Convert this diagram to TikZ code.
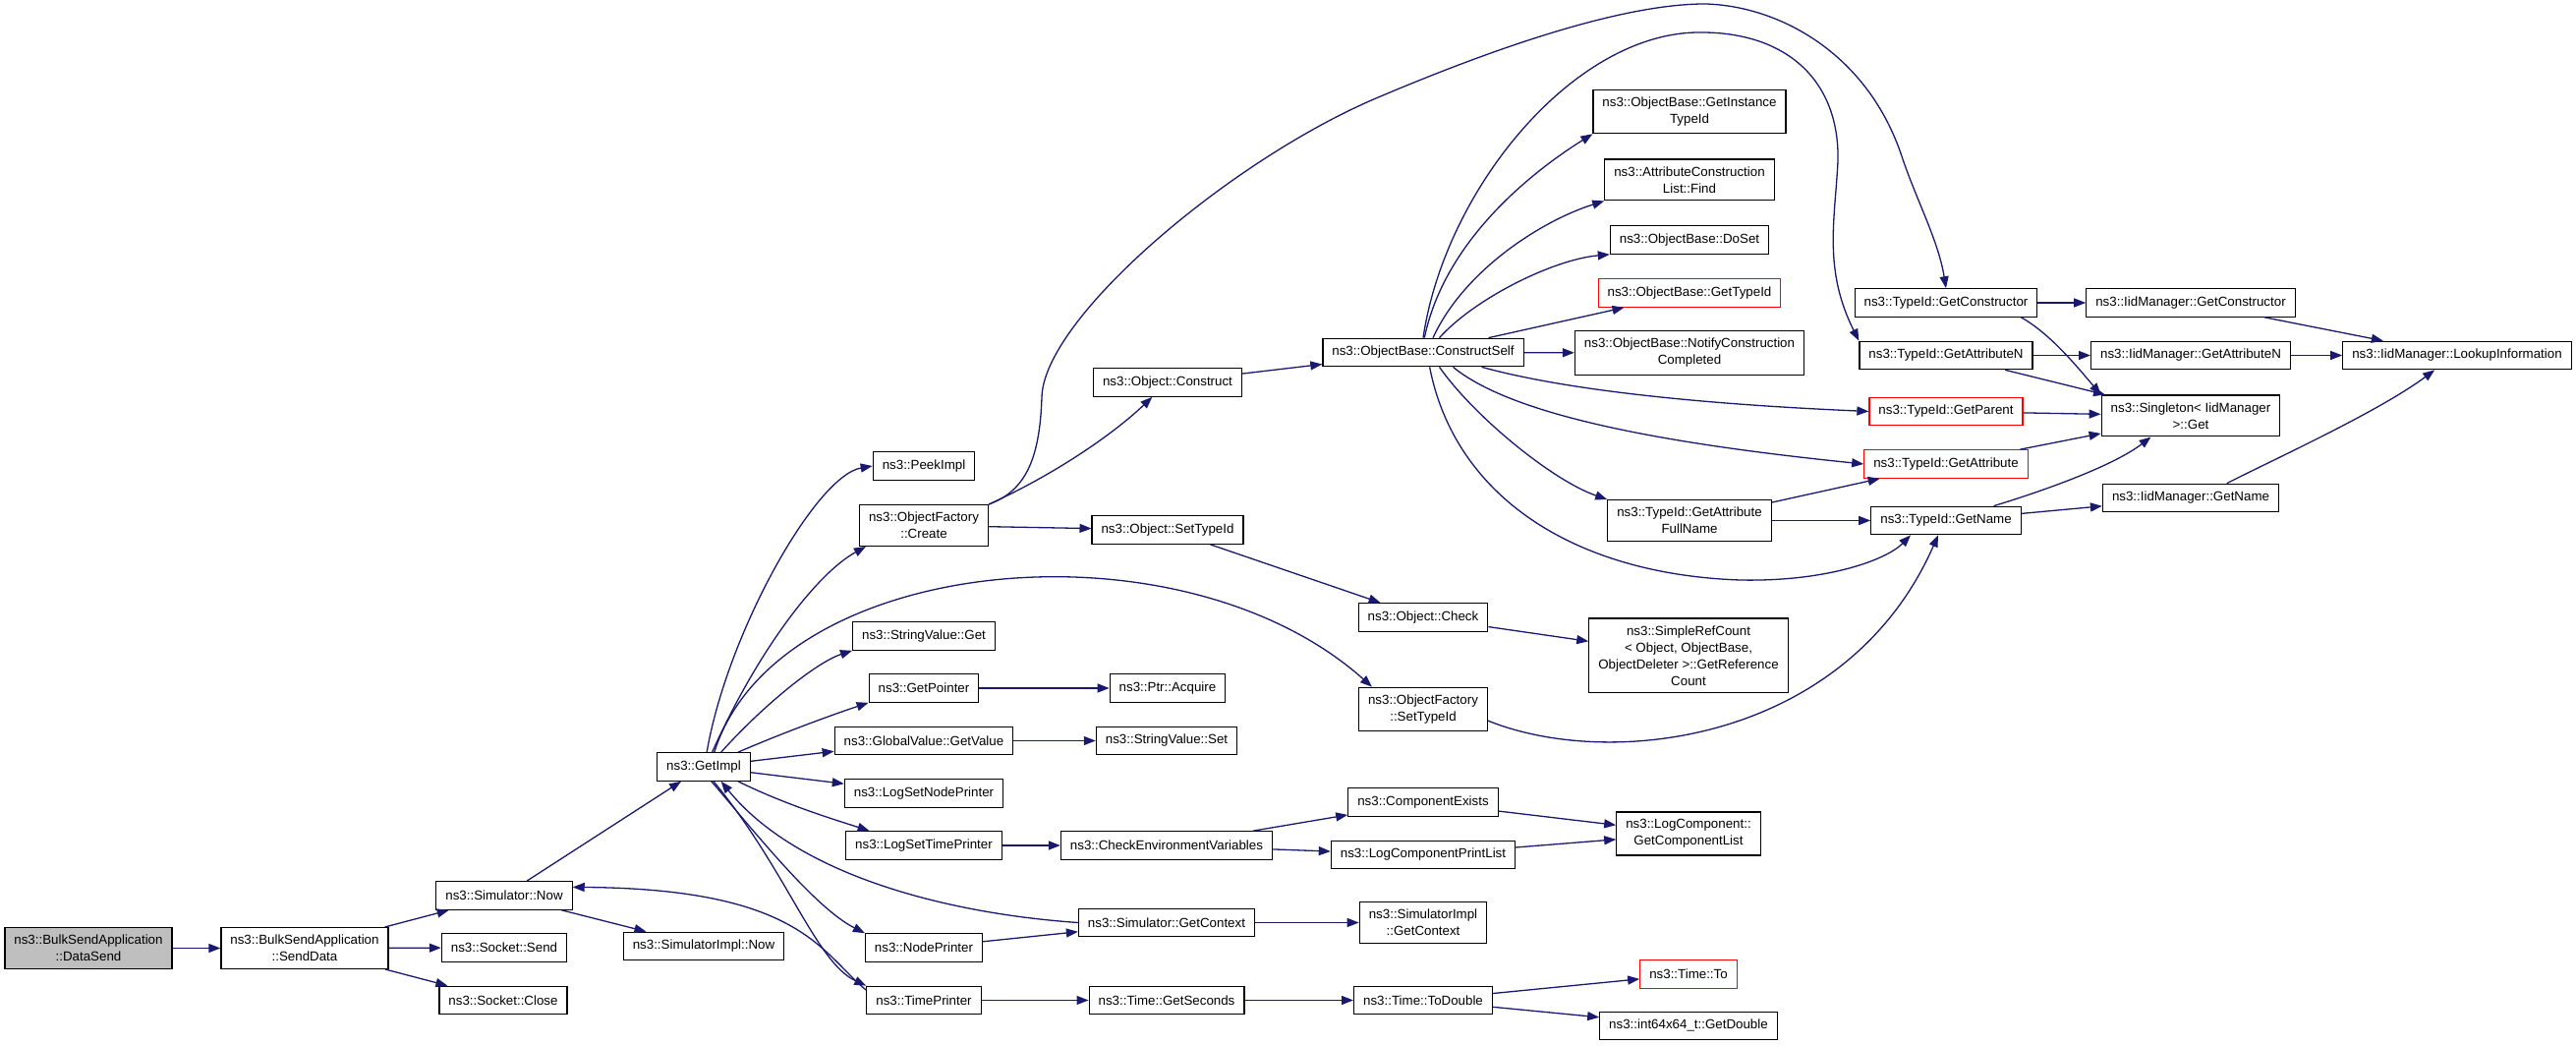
\documentclass[tikz,border=0pt]{standalone}
\usepackage{fontspec}
\setmainfont{Liberation Sans}
\usetikzlibrary{arrows.meta}
\definecolor{callblue}{RGB}{25,25,112}
\definecolor{curgray}{RGB}{191,191,191}

\begin{document}
\begin{tikzpicture}[x=1pt, y=1pt,
  fn/.style={draw=black, fill=white, line width=1.2pt, align=center,
    font=\fontsize{13.33}{17}\selectfont, inner xsep=9.5pt, inner ysep=7.5pt,
    minimum height=28.5pt},
  fnred/.style={fn, draw=red},
  fncur/.style={fn, fill=curgray},
  call/.style={draw=callblue, line width=1.3pt, -{Triangle[length=12pt, width=9pt]}}]
  \path[fill=white, use as bounding box] (0,0) rectangle (2621,1064);

  \node[fncur] (datasend) at (90,99.5) {ns3::BulkSendApplication\\::DataSend};
  \node[fn] (senddata) at (310,99.5) {ns3::BulkSendApplication\\::SendData};
  \node[fn] (simnow) at (513,153) {ns3::Simulator::Now};
  \node[fn] (socksend) at (513,100) {ns3::Socket::Send};
  \node[fn] (sockclose) at (512,46.5) {ns3::Socket::Close};
  \node[fn] (simimplnow) at (716,101.5) {ns3::SimulatorImpl::Now};
  \node[fn] (getimpl) at (716,284) {ns3::GetImpl};
  \node[fn] (peekimpl) at (940,590) {ns3::PeekImpl};
  \node[fn] (ofcreate) at (940,529.5) {ns3::ObjectFactory\\::Create};
  \node[fn] (strget) at (940,417) {ns3::StringValue::Get};
  \node[fn] (getpointer) at (940,364) {ns3::GetPointer};
  \node[fn] (gvgetvalue) at (940,310.5) {ns3::GlobalValue::GetValue};
  \node[fn] (logsetnode) at (940,257) {ns3::LogSetNodePrinter};
  \node[fn] (logsettime) at (940,204) {ns3::LogSetTimePrinter};
  \node[fn] (nodeprinter) at (940,100) {ns3::NodePrinter};
  \node[fn] (timeprinter) at (940,46.5) {ns3::TimePrinter};
  \node[fn] (objconstruct) at (1188,675) {ns3::Object::Construct};
  \node[fn] (objsettypeid) at (1188,525) {ns3::Object::SetTypeId};
  \node[fn] (ptracquire) at (1188,364) {ns3::Ptr::Acquire};
  \node[fn] (strset) at (1187,310.5) {ns3::StringValue::Set};
  \node[fn] (checkenv) at (1187,204) {ns3::CheckEnvironmentVariables};
  \node[fn] (simgetctx) at (1187,125.5) {ns3::Simulator::GetContext};
  \node[fn] (getseconds) at (1187,46.5) {ns3::Time::GetSeconds};
  \node[fn] (constructself) at (1448,705.5) {ns3::ObjectBase::ConstructSelf};
  \node[fn] (objcheck) at (1448,436) {ns3::Object::Check};
  \node[fn] (ofsettypeid) at (1448,342.5) {ns3::ObjectFactory\\::SetTypeId};
  \node[fn] (compexists) at (1448,248) {ns3::ComponentExists};
  \node[fn] (logprintlist) at (1448,194.5) {ns3::LogComponentPrintList};
  \node[fn] (simimplctx) at (1448,125.5) {ns3::SimulatorImpl\\::GetContext};
  \node[fn] (todouble) at (1448,46.5) {ns3::Time::ToDouble};
  \node[fn] (getinstance) at (1719,950.5) {ns3::ObjectBase::GetInstance\\TypeId};
  \node[fn] (acfind) at (1719,881) {ns3::AttributeConstruction\\List::Find};
  \node[fn] (doset) at (1719,820) {ns3::ObjectBase::DoSet};
  \node[fnred] (getypeid) at (1719,766) {ns3::ObjectBase::GetTypeId};
  \node[fn] (notify) at (1719,705) {ns3::ObjectBase::NotifyConstruction\\Completed};
  \node[fn] (fullname) at (1719,534.5) {ns3::TypeId::GetAttribute\\FullName};
  \node[fn] (simplerefcount) at (1718,397) {ns3::SimpleRefCount\\< Object, ObjectBase,\\ObjectDeleter >::GetReference\\Count};
  \node[fn] (getcomplist) at (1718,216) {ns3::LogComponent::\\GetComponentList};
  \node[fnred] (timeto) at (1718,73) {ns3::Time::To};
  \node[fn] (getdouble) at (1718,20.5) {ns3::int64x64\_t::GetDouble};
  \node[fn] (tgetctor) at (1980,756) {ns3::TypeId::GetConstructor};
  \node[fn] (tgetattrn) at (1980,702.5) {ns3::TypeId::GetAttributeN};
  \node[fnred] (tgetparent) at (1980,645.5) {ns3::TypeId::GetParent};
  \node[fnred] (tgetattr) at (1980,592) {ns3::TypeId::GetAttribute};
  \node[fn] (tgetname) at (1980,534.5) {ns3::TypeId::GetName};
  \node[fn] (iidgetctor) at (2229,756) {ns3::IidManager::GetConstructor};
  \node[fn] (iidgetattrn) at (2229,702.5) {ns3::IidManager::GetAttributeN};
  \node[fn] (singleton) at (2229,641) {ns3::Singleton< IidManager\\>::Get};
  \node[fn] (iidgetname) at (2229,557.5) {ns3::IidManager::GetName};
  \node[fn] (lookup) at (2500,702.5) {ns3::IidManager::LookupInformation};

  \draw[call] (datasend) -- (senddata);
  \draw[call] (senddata) -- (simnow);
  \draw[call] (senddata) -- (socksend);
  \draw[call] (senddata) -- (sockclose);
  \draw[call] (simnow) -- (getimpl);
  \draw[call] (simnow) -- (simimplnow);
  \draw[call] (getimpl.78) .. controls (740,420) and (830,580) .. (peekimpl.west);
  \draw[call] (getimpl.60) .. controls (770,400) and (830,480) .. (ofcreate.200);
  \draw[call] (getimpl.54) .. controls (790,500) and (1200,540) .. ([xshift=14pt]ofsettypeid.north west);
  \draw[call] (getimpl.40) .. controls (775,345) and (830,390) .. (strget.south west);
  \draw[call] (getimpl.23) .. controls (800,320) and (850,338) .. (getpointer.south west);
  \draw[call] (getimpl) -- (gvgetvalue);
  \draw[call] (getimpl) -- (logsetnode);
  \draw[call] (getimpl.-23) .. controls (800,245) and (850,230) .. (logsettime.165);
  \draw[call] (getimpl.-62) .. controls (770,215) and (830,140) .. (nodeprinter.north west);
  \draw[call] (getimpl.-56) .. controls (800,180) and (830,85) .. (timeprinter.north west);
  \draw[call] (timeprinter.170) .. controls (835,95) and (815,160) .. (simnow.7);
  \draw[call] (simgetctx.west) .. controls (960,135) and (810,175) .. (getimpl.-40);
  \draw[call] (nodeprinter) -- (simgetctx);
  \draw[call] (timeprinter) -- (getseconds);
  \draw[call] (ofcreate.north east) .. controls (1070,580) and (1130,620) .. (objconstruct);
  \draw[call] (ofcreate) -- (objsettypeid);
  \draw[call] (ofcreate.north east) .. controls (1045,565) and (1058,600) .. (1060,660)
    .. controls (1062,740) and (1250,900) .. (1400,964)
    .. controls (1520,1015) and (1650,1060) .. (1735,1060)
    .. controls (1810,1058) and (1900,1010) .. (1935,905)
    .. controls (1950,860) and (1972,820) .. (tgetctor.north);
  \draw[call] (getpointer) -- (ptracquire);
  \draw[call] (gvgetvalue) -- (strset);
  \draw[call] (logsettime) -- (checkenv);
  \draw[call] (checkenv) -- (compexists);
  \draw[call] (checkenv) -- (logprintlist);
  \draw[call] (compexists) -- (getcomplist);
  \draw[call] (logprintlist) -- (getcomplist);
  \draw[call] (simgetctx) -- (simimplctx);
  \draw[call] (getseconds) -- (todouble);
  \draw[call] (todouble) -- (timeto);
  \draw[call] (todouble) -- (getdouble);
  \draw[call] (objconstruct) -- (constructself);
  \draw[call] (objsettypeid) -- (objcheck);
  \draw[call] (objcheck) -- (simplerefcount);
  \draw[call] (constructself.north) .. controls (1470,870) and (1600,1030) .. (1728,1031)
    .. controls (1820,1032) and (1872,980) .. (1870,900)
    .. controls (1867,840) and (1855,790) .. (tgetattrn.north west);
  \draw[call] (constructself.85) .. controls (1470,820) and (1560,890) .. (getinstance.south west);
  \draw[call] (constructself.56) .. controls (1490,790) and (1570,840) .. (acfind.south west);
  \draw[call] (constructself.42) .. controls (1500,760) and (1580,800) .. (doset.south west);
  \draw[call] (constructself) -- (getypeid);
  \draw[call] (constructself) -- (notify);
  \draw[call] (constructself.-14) .. controls (1600,665) and (1750,652) .. (tgetparent.west);
  \draw[call] (constructself.-26) .. controls (1540,640) and (1700,612) .. (tgetattr.west);
  \draw[call] (constructself.-42) .. controls (1500,640) and (1580,575) .. (fullname.north west);
  \draw[call] (constructself.-66) .. controls (1480,560) and (1600,480) .. (1770,474)
    .. controls (1860,472) and (1920,495) .. ([xshift=-36pt]tgetname.south);
  \draw[call] (ofsettypeid.-10) .. controls (1640,280) and (1880,310) .. ([xshift=-8pt]tgetname.south);
  \draw[call] (fullname) -- (tgetattr);
  \draw[call] (fullname) -- (tgetname);
  \draw[call] (tgetctor) -- (iidgetctor);
  \draw[call] (tgetctor.-11) .. controls (2085,725) and (2110,695) .. (singleton.north west);
  \draw[call] (tgetattrn) -- (iidgetattrn);
  \draw[call] (tgetattrn) -- (singleton);
  \draw[call] (tgetparent) -- (singleton);
  \draw[call] (tgetattr) -- (singleton);
  \draw[call] (tgetname.17) .. controls (2080,565) and (2150,590) .. (singleton.208);
  \draw[call] (tgetname) -- (iidgetname);
  \draw[call] (iidgetctor) -- (lookup);
  \draw[call] (iidgetattrn) -- (lookup);
  \draw[call] (iidgetname.22) .. controls (2310,595) and (2420,645) .. (lookup.213);
\end{tikzpicture}
\end{document}
